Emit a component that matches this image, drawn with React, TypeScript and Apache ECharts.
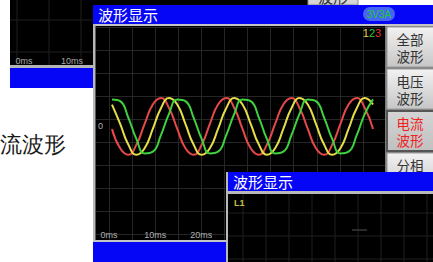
import React, { useEffect, useRef } from "react";
import * as echarts from "echarts";

// time samples (ms) along the current waveforms
const times = [0.65, 2.42, 4.18, 5.95, 7.72, 9.49, 11.25, 13.02, 14.79, 16.55, 18.32, 20.09, 21.85, 23.62, 25.39, 27.16, 28.92, 30.69, 32.46, 34.22, 35.99, 37.76, 39.52, 41.29, 43.06, 44.82, 46.59, 48.36, 50.13, 51.89, 53.66, 55.43, 57.19];
// phase 3 (red)
const phaseRed = [-9, -77, -100, -64, 9, 77, 100, 64, -9, -77, -100, -64, 9, 77, 100, 64, -9, -77, -100, -64, 9, 77, 100, 64, -9, -77, -100, -64, 9, 77, 100, 64, -9];
// phase 1 (yellow)
const phaseYellow = [77, 9, -64, -100, -77, -9, 64, 100, 77, 9, -64, -100, -77, -9, 64, 100, 77, 9, -64, -100, -77, -9, 64, 100, 77, 9, -64, -100, -77, -9, 64, 100, 77];
// phase 2 (green)
const phaseGreen = [95, 89, 31, -45, -95, -89, -31, 45, 95, 89, 31, -45, -95, -89, -31, 45, 95, 89, 31, -45, -95, -89, -31, 45, 95, 89, 31, -45, -95, -89, -31, 45, 95];

const xTickLabels: Record<number, string> = { 0: "0ms", 10: "10ms", 20: "20ms" };
const yTickLabels: Record<number, string> = { 0: "0" };
const buttons = [
  { lines: ["全部", "波形"], pressed: false },
  { lines: ["电压", "波形"], pressed: false },
  { lines: ["电流", "波形"], pressed: true },
  { lines: ["分相"], pressed: false },
];

const BLUE = "#0606f6";
const CJK = "'Noto Sans CJK SC', sans-serif";

export default function App() {
  const ref = useRef<HTMLDivElement>(null);
  useEffect(() => {
    if (!ref.current) return;
    const chart = echarts.init(ref.current, undefined, { renderer: "svg" });
    const grad = (a: string, b: string) =>
      new echarts.graphic.LinearGradient(0, 0, 0, 1, [
        { offset: 0, color: a },
        { offset: 1, color: b },
      ]);
    const faint = "#1f1f1f";
    const bg: any[] = [
      { type: "rect", z: -10, shape: { x: 10, y: 0, width: 300, height: 66 }, style: { fill: "#000" } },
      ...[17, 49, 81].map((x) => ({ type: "line", z: -9, shape: { x1: x, y1: 0, x2: x, y2: 65 }, style: { stroke: faint, lineWidth: 1 } })),
      ...[20, 52].map((y) => ({ type: "line", z: -9, shape: { x1: 10, y1: y, x2: 93, y2: y }, style: { stroke: faint, lineWidth: 1 } })),
      { type: "text", z: -8, x: 24, y: 61, style: { text: "0ms", fill: "#a8a8a8", fontSize: 9, fontFamily: "'Liberation Sans', sans-serif", align: "center", verticalAlign: "middle" } },
      { type: "text", z: -8, x: 72, y: 61, style: { text: "10ms", fill: "#a8a8a8", fontSize: 9, fontFamily: "'Liberation Sans', sans-serif", align: "center", verticalAlign: "middle" } },
      { type: "rect", z: -8, shape: { x: 10, y: 65, width: 84, height: 3 }, style: { fill: "#b4b4b4" } },
      { type: "rect", z: -8, shape: { x: 10, y: 68, width: 84, height: 20 }, style: { fill: BLUE } },
      { type: "rect", z: -10, shape: { x: 95, y: 26, width: 291, height: 215 }, style: { fill: "#000" } },
    ];
    const fg: any[] = [
      { type: "rect", z: 50, shape: { x: 308, y: -10, width: 50, height: 15 }, style: { fill: grad("#e8e8e8", "#cfcfcf"), stroke: "#8a8a8a", lineWidth: 1 } },
      { type: "text", z: 51, x: 333, y: -4, style: { text: "波形", fill: "#333", fontSize: 15, fontFamily: CJK, align: "center", verticalAlign: "middle" } },
      { type: "rect", z: 50, shape: { x: 93, y: 5, width: 340, height: 19 }, style: { fill: BLUE } },
      { type: "text", z: 51, x: 98, y: 14.5, style: { text: "波形显示", fill: "#fff", fontSize: 15, fontFamily: CJK, align: "left", verticalAlign: "middle" } },
      { type: "rect", z: 51, shape: { x: 363, y: 7, width: 32, height: 14, r: 7 }, style: { fill: "#4466f0" } },
      { type: "text", z: 52, x: 379, y: 14, style: { text: "3V3A", fill: "#22cc33", fontSize: 10, fontFamily: "'Liberation Sans', sans-serif", align: "center", verticalAlign: "middle" } },
      { type: "rect", z: 50, shape: { x: 93, y: 24, width: 340, height: 2 }, style: { fill: "#c4c4c4" } },
      { type: "rect", z: 50, shape: { x: 93, y: 24, width: 2.5, height: 218 }, style: { fill: "#b8b8b8" } },
      { type: "rect", z: 50, shape: { x: 385, y: 26, width: 48, height: 146 }, style: { fill: "#7a7a7a" } },
      ...buttons.flatMap((b, i) => {
        const y0 = 27 + i * 42;
        return [
          {
            type: "rect", z: 51,
            shape: { x: 387, y: y0, width: 50, height: 40 },
            style: b.pressed
              ? { fill: grad("#d4d4d4", "#c0c0c0"), stroke: "#555", lineWidth: 2 }
              : { fill: grad("#f2f2f2", "#c6c6c6"), stroke: "#9a9a9a", lineWidth: 1 },
          },
          ...b.lines.map((ln, j) => ({
            type: "text", z: 52, x: 410, y: y0 + 12 + j * 16.5,
            style: { text: ln, fill: b.pressed ? "#ee2222" : "#333", fontSize: 13.5, fontFamily: CJK, align: "center", verticalAlign: "middle" },
          })),
        ];
      }),
      {
        type: "text", z: 52, x: 372, y: 32.5,
        style: {
          text: "{a|1}{b|2}{c|3}", align: "center", verticalAlign: "middle",
          rich: {
            a: { fill: "#e6d84a", fontSize: 11, fontFamily: "'Liberation Sans', sans-serif" },
            b: { fill: "#33cc33", fontSize: 11, fontFamily: "'Liberation Sans', sans-serif" },
            c: { fill: "#e83030", fontSize: 11, fontFamily: "'Liberation Sans', sans-serif" },
          },
        },
      },
      { type: "rect", z: 50, shape: { x: 93, y: 240, width: 135, height: 2 }, style: { fill: "#c4c4c4" } },
      { type: "rect", z: 50, shape: { x: 93, y: 242, width: 135, height: 20 }, style: { fill: BLUE } },
      // bottom-right panel
      { type: "rect", z: 60, shape: { x: 226, y: 172, width: 207, height: 90 }, style: { fill: "#b8b8b8" } },
      { type: "rect", z: 61, shape: { x: 228, y: 172, width: 205, height: 19 }, style: { fill: BLUE } },
      { type: "rect", z: 61, shape: { x: 228, y: 194, width: 205, height: 68 }, style: { fill: "#000" } },
      ...[243, 266, 289, 312, 335, 358, 381, 404, 427].map((x) => ({ type: "line", z: 62, shape: { x1: x, y1: 194, x2: x, y2: 262 }, style: { stroke: faint, lineWidth: 1 } })),
      ...[213, 236, 259].map((y) => ({ type: "line", z: 62, shape: { x1: 228, y1: y, x2: 433, y2: y }, style: { stroke: faint, lineWidth: 1 } })),
      { type: "line", z: 63, shape: { x1: 352, y1: 230, x2: 367, y2: 230 }, style: { stroke: "#3a3a3a", lineWidth: 1.5 } },
      { type: "text", z: 63, x: 233, y: 181.5, style: { text: "波形显示", fill: "#fff", fontSize: 15, fontFamily: CJK, align: "left", verticalAlign: "middle" } },
      { type: "text", z: 63, x: 234, y: 203, style: { text: "L1", fill: "#c8c040", fontSize: 9, fontWeight: "bold", fontFamily: "'Liberation Sans', sans-serif", align: "left", verticalAlign: "middle" } },
      // left caption
      { type: "text", z: 50, x: 66, y: 144, style: { text: "流波形", fill: "#1a1a1a", fontSize: 22, fontFamily: "serif", align: "right", verticalAlign: "middle" } },
    ];

    const mk = (vals: number[]) => times.map((t, i) => [t, vals[i]]);
    const lineSeries = (name: string, vals: number[], color: string) => ({
      name, type: "line", xAxisIndex: 0, yAxisIndex: 0, data: mk(vals), smooth: 0.5,
      symbol: "none", lineStyle: { color, width: 2 }, z: 3,
    });

    chart.setOption({
      animation: false,
      graphic: { elements: [...bg, ...fg] },
      grid: [
        { left: 109, right: 47, top: 27, bottom: 22, show: false },
        { left: 96, right: 48, top: 27, bottom: 22, show: false },
      ],
      xAxis: [
        {
          type: "value", gridIndex: 0, min: 0, max: 60, interval: 5,
          axisLine: { show: false }, axisTick: { show: false },
          splitLine: { show: true, lineStyle: { color: "#262626", width: 1 } },
          axisLabel: {
            inside: true, margin: 1, color: "#b0b0b0", fontSize: 9,
            fontFamily: "'Liberation Sans', sans-serif",
            formatter: (v: number) => xTickLabels[v] ?? "",
          },
        },
        { type: "value", gridIndex: 1, show: false, min: 0, max: 1 },
      ],
      yAxis: [
        {
          type: "value", gridIndex: 0, min: -400, max: 350, interval: 50,
          axisLine: { show: false }, axisTick: { show: false }, splitLine: { show: false },
          axisLabel: {
            margin: 6, color: "#b0b0b0", fontSize: 9, fontFamily: "'Liberation Sans', sans-serif",
            formatter: (v: number) => yTickLabels[v] ?? "",
          },
        },
        {
          type: "value", gridIndex: 1, inverse: true, min: 0, max: 9.26, interval: 1,
          axisLine: { show: false }, axisTick: { show: false }, axisLabel: { show: false },
          splitLine: { show: true, lineStyle: { color: "#262626", width: 1 } },
        },
      ],
      series: [
        lineSeries("L3", phaseRed, "#e8484a"),
        lineSeries("L1", phaseYellow, "#e6de48"),
        lineSeries("L2", phaseGreen, "#3ed23e"),
      ],
    });
    return () => chart.dispose();
  }, []);
  return (
    <div
      ref={ref}
      style={{ position: "fixed", left: 0, top: 0, width: 433, height: 262, background: "#fff" }}
    />
  );
}
